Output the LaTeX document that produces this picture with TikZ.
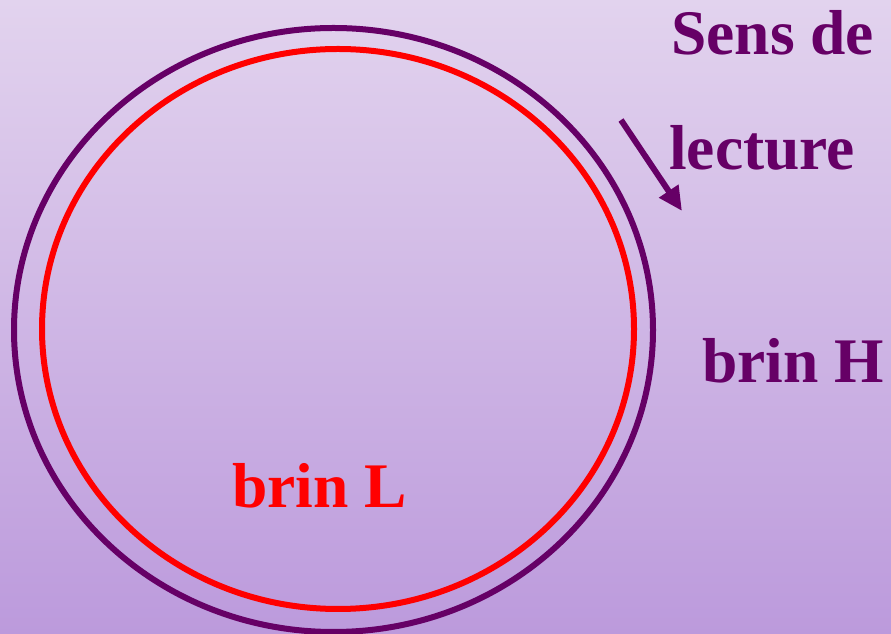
\documentclass[tikz,border=0pt]{standalone}
\usepackage{fontspec}
\setmainfont{Liberation Serif}
\usetikzlibrary{arrows.meta}
\definecolor{bgtop}{RGB}{226,211,238}
\definecolor{bgbot}{RGB}{188,154,220}
\definecolor{strandH}{RGB}{102,0,102}
\definecolor{strandL}{RGB}{255,0,0}
\tikzset{
  lbl/.style={anchor=base west, inner sep=0pt, font=\fontsize{63.5}{63.5}\selectfont\bfseries},
  strand/.style={line width=6pt}
}
\begin{document}
\begin{tikzpicture}[x=1pt,y=1pt]
\useasboundingbox (0,0) rectangle (891,634);
\shade[top color=bgtop, bottom color=bgbot] (0,0) rectangle (891,634);
\draw[strand, strandH] (333.5,304) ellipse [x radius=319.5, y radius=302];
\draw[strand, strandL] (338,305) ellipse [x radius=296, y radius=280];
\node[lbl, text=strandH] (sens) at (671,579) {Sens de};
\node[lbl, text=strandH] (lect) at (669,464) {lecture};
\node[lbl, text=strandH] (brinH) at (702,251) {brin H};
\node[lbl, text=strandL] (brinL) at (232,126) {brin L};
\coordinate (arrS) at (621,514);
\coordinate (arrE) at (682,423);
\draw[line width=6pt, strandH, -{Triangle[length=24pt,width=22pt]}] (arrS) -- (arrE);
\end{tikzpicture}
\end{document}
